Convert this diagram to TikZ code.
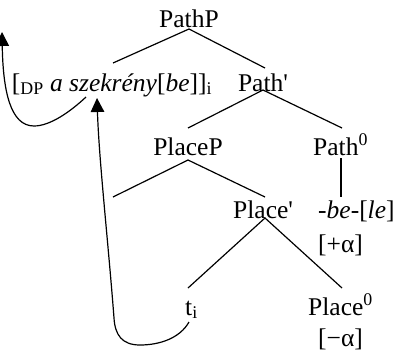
\documentclass[tikz,border=0pt]{standalone}
\usepackage{fontspec}
\setmainfont{Liberation Serif}
\usetikzlibrary{arrows.meta}
\begin{document}
\begin{tikzpicture}[x=1pt,y=-1pt,
  lbl/.style={anchor=base west,inner sep=0pt,font=\fontsize{25.5}{30}\selectfont},
  lblc/.style={anchor=base,inner sep=0pt,font=\fontsize{25.5}{30}\selectfont},
  branch/.style={line width=1.2pt},
  move/.style={line width=1.2pt,-{Triangle[length=14pt,width=13.5pt]}}]
\useasboundingbox (0,0) rectangle (399,351);
% nodes
\node[lblc] (pathp) at (189,27) {PathP};
\node[lblc] (dp) at (112,91) {[\textsubscript{DP} \textit{a szekrény}[\textit{be}]]\textsubscript{i}};
\node[lblc] (pathbar) at (263,91) {Path\textquotesingle};
\node[lblc] (placep) at (188,155) {PlaceP};
\node[lbl] (path0) at (313,155) {Path\textsuperscript{0}};
\node[lbl] (placebar) at (233,218) {Place\textquotesingle};
\node[lbl] (bele) at (318,218) {\textit{-be-}[\textit{le}]};
\node[lbl] (plusa) at (318,252) {[+α]};
\node[lbl] (ti) at (185,315) {t\textsubscript{i}};
\node[lbl] (place0) at (308,315) {Place\textsuperscript{0}};
\node[lbl] (minusa) at (318,346) {[−α]};
% branch points
\coordinate (pathpA) at (189,29);
\coordinate (dpT) at (113,63);
\coordinate (pathbarT) at (265,68);
\coordinate (pathbarA) at (263,90);
\coordinate (placepT) at (188,128);
\coordinate (path0T) at (342,128);
\coordinate (placepA) at (188,160);
\coordinate (emptyL) at (113,197);
\coordinate (placebarT) at (265,197);
\coordinate (path0B) at (341,158);
\coordinate (beleT) at (341,197);
\coordinate (placebarA) at (265,218);
\coordinate (tT) at (188,288);
\coordinate (place0T) at (342,288);
\coordinate (tB) at (189,322);
\coordinate (dpB) at (86,97);
\coordinate (dpTarget) at (97,98);
\coordinate (outTarget) at (2,32);
% branches
\draw[branch] (dpT) -- (pathpA) -- (pathbarT);
\draw[branch] (placepT) -- (pathbarA) -- (path0T);
\draw[branch] (emptyL) -- (placepA) -- (placebarT);
\draw[branch] (path0B) -- (beleT);
\draw[branch] (tT) -- (placebarA) -- (place0T);
% movement arrows
\draw[move] (tB) .. controls (180,338) and (160,345) .. (140,345)
  .. controls (122,345) and (115,335) .. (114,318)
  .. controls (108,240) and (99,160) .. (dpTarget);
\draw[move] (dpB) .. controls (70,112) and (50,126) .. (34,126)
  .. controls (10,126) and (3,90) .. (outTarget);
\end{tikzpicture}
\end{document}
